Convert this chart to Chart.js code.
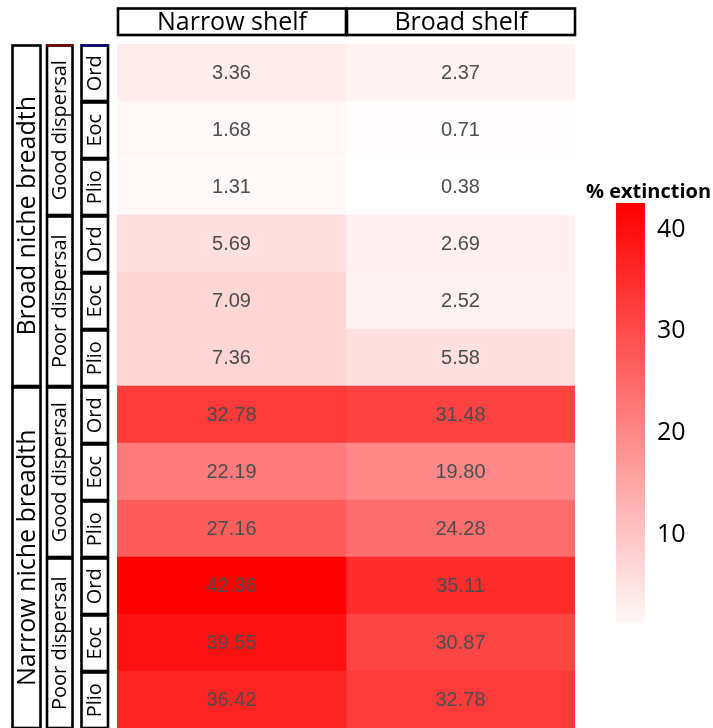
<!DOCTYPE html>
<html>
<head>
<meta charset="utf-8">
<script src="https://cdn.jsdelivr.net/npm/chart.js@4"></script>
<style>
body { margin: 0; background: #fff; }
#wrap { position: relative; width: 713px; height: 728px; overflow: hidden; }
#heat { position: absolute; left: 0; top: 0; }
#legend { position: absolute; left: 584px; top: 170px; }
</style>
</head>
<body>
<div id="wrap">
  <canvas id="heat" width="713" height="728"></canvas>
  <canvas id="legend" width="129" height="470"></canvas>
</div>
<script>
const shelfLabels = ['Narrow shelf', 'Broad shelf'];
const periodLabels = ['Ord', 'Eoc', 'Plio', 'Ord', 'Eoc', 'Plio', 'Ord', 'Eoc', 'Plio', 'Ord', 'Eoc', 'Plio'];
const dispersalLabels = ['Good dispersal', 'Poor dispersal', 'Good dispersal', 'Poor dispersal'];
const nicheLabels = ['Broad niche breadth', 'Narrow niche breadth'];
const narrowShelf = [3.36, 1.68, 1.31, 5.69, 7.09, 7.36, 32.78, 22.19, 27.16, 42.36, 39.55, 36.42];
const broadShelf = [2.37, 0.71, 0.38, 2.69, 2.52, 5.58, 31.48, 19.80, 24.28, 35.11, 30.87, 32.78];
const legendTicks = [10, 20, 30, 40];
const legendMin = 1.3;
const legendMax = 42.6;

const allValues = narrowShelf.concat(broadShelf);
const lowVal = Math.min(...allValues);
const highVal = Math.max(...allValues);

// blanc -> rouge selon la valeur
function heatColor(v) {
    let t = (v - lowVal) / (highVal - lowVal);
    t = Math.max(0, Math.min(1, t));
    const gb = Math.round(255 * (1 - t));
    return `rgb(255, ${gb}, ${gb})`;
}

const labelFont = '"Open Sans", sans-serif';

function drawBox(ctx, x0, x1, y0, y1, text, size, rotate, topColor) {
    ctx.save();
    ctx.lineWidth = 2.6;
    ctx.strokeStyle = '#000';
    ctx.strokeRect(x0, y0, x1 - x0, y1 - y0);
    if (topColor) {
        ctx.strokeStyle = topColor;
        ctx.lineWidth = 2;
        ctx.beginPath();
        ctx.moveTo(x0 - 1, y0);
        ctx.lineTo(x1 + 1, y0);
        ctx.stroke();
    }
    ctx.fillStyle = '#000';
    ctx.font = `${size}px ${labelFont}`;
    ctx.textAlign = 'center';
    ctx.textBaseline = 'middle';
    ctx.translate((x0 + x1) / 2, (y0 + y1) / 2);
    if (rotate) ctx.rotate(-Math.PI / 2);
    ctx.fillText(text, 0, 1);
    ctx.restore();
}

const framePlugin = {
    id: 'frames',
    afterDatasetsDraw(chart) {
        const ctx = chart.ctx;
        const xs = chart.scales.x;
        const ys = chart.scales.y;
        const band = (chart.chartArea.bottom - chart.chartArea.top) / periodLabels.length;
        const rowTop = i => ys.getPixelForValue(i) - band / 2;

        // valeurs dans les cases
        ctx.save();
        ctx.font = '20px "Liberation Sans", Arial, sans-serif';
        ctx.fillStyle = '#4d4d4d';
        ctx.textAlign = 'center';
        ctx.textBaseline = 'middle';
        chart.data.datasets.forEach((ds, di) => {
            chart.getDatasetMeta(di).data.forEach((bar, i) => {
                ctx.fillText(ds.values[i].toFixed(2), (bar.x + bar.base) / 2, bar.y + 1);
            });
        });
        ctx.restore();

        // entetes des colonnes
        shelfLabels.forEach((lab, i) => {
            drawBox(ctx, xs.getPixelForValue(i) + 1, xs.getPixelForValue(i + 1), 8.5, 35, lab, 25, false);
        });

        // boites a gauche
        nicheLabels.forEach((lab, g) => {
            drawBox(ctx, 12.5, 40.5, rowTop(g * 6) + 1.5, rowTop(g * 6) + band * 6, lab, 25, true);
        });
        dispersalLabels.forEach((lab, d) => {
            drawBox(ctx, 47, 72.5, rowTop(d * 3) + 1.5, rowTop(d * 3) + band * 3, lab, 20, true, d === 0 ? '#7a0000' : null);
        });
        periodLabels.forEach((lab, r) => {
            drawBox(ctx, 81.5, 108, rowTop(r) + 1.5, rowTop(r) + band, lab, 20, true, r === 0 ? '#00007a' : null);
        });
    }
};

new Chart(document.getElementById('heat'), {
    type: 'bar',
    data: {
        labels: periodLabels,
        datasets: [
            {
                label: shelfLabels[0],
                data: narrowShelf.map(() => 1),
                values: narrowShelf,
                backgroundColor: narrowShelf.map(heatColor)
            },
            {
                label: shelfLabels[1],
                data: broadShelf.map(() => 1),
                values: broadShelf,
                backgroundColor: broadShelf.map(heatColor)
            }
        ]
    },
    options: {
        indexAxis: 'y',
        responsive: false,
        animation: false,
        datasets: { bar: { barPercentage: 1, categoryPercentage: 1, borderWidth: 0 } },
        layout: { padding: { left: 117, right: 138, top: 44, bottom: 0 } },
        scales: {
            x: { display: false, stacked: true, min: 0, max: 2 },
            y: { display: false, stacked: true }
        },
        plugins: { legend: { display: false }, tooltip: { enabled: false } }
    },
    plugins: [framePlugin]
});

// barre de couleur
const legendTitle = {
    id: 'legendTitle',
    afterDraw(chart) {
        const ctx = chart.ctx;
        ctx.save();
        ctx.font = `bold 20px ${labelFont}`;
        ctx.fillStyle = '#000';
        ctx.textAlign = 'center';
        ctx.textBaseline = 'middle';
        ctx.fillText('% extinction', chart.width / 2, 22);
        ctx.restore();
    }
};

new Chart(document.getElementById('legend'), {
    type: 'bar',
    data: {
        labels: ['% extinction'],
        datasets: [{
            data: [[legendMin, legendMax]],
            borderWidth: 0,
            backgroundColor: function (context) {
                const area = context.chart.chartArea;
                if (!area) return heatColor(highVal);
                const ys = context.chart.scales.y;
                const grad = context.chart.ctx.createLinearGradient(0, ys.getPixelForValue(legendMin), 0, ys.getPixelForValue(legendMax));
                for (let k = 0; k <= 10; k++) {
                    const v = legendMin + (legendMax - legendMin) * k / 10;
                    grad.addColorStop(k / 10, heatColor(v));
                }
                return grad;
            }
        }]
    },
    options: {
        responsive: false,
        animation: false,
        datasets: { bar: { barPercentage: 1, categoryPercentage: 1 } },
        layout: { padding: { left: 32, right: 0, top: 33, bottom: 17 } },
        scales: {
            x: { display: false },
            y: {
                position: 'right',
                min: legendMin,
                max: legendMax,
                afterFit: s => { s.width = 68; s.paddingTop = 0; s.paddingBottom = 0; },
                afterBuildTicks: s => { s.ticks = legendTicks.map(v => ({ value: v })); },
                grid: { display: false, drawTicks: false },
                border: { display: false },
                ticks: { padding: 12, color: '#000', font: { family: labelFont, size: 25 } }
            }
        },
        plugins: { legend: { display: false }, tooltip: { enabled: false } }
    },
    plugins: [legendTitle]
});
</script>
</body>
</html>
